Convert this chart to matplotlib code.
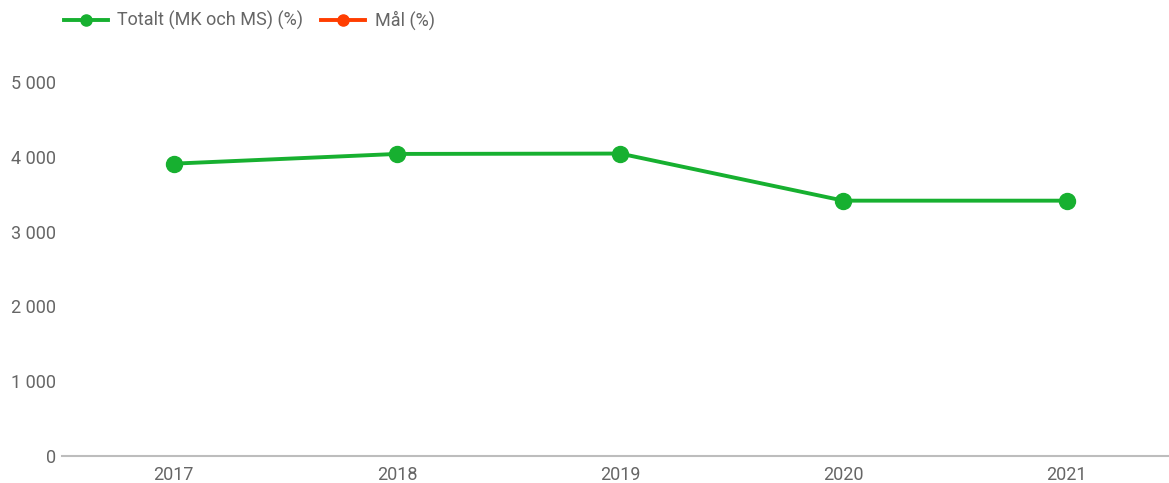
import matplotlib
matplotlib.use("Agg")
import matplotlib.pyplot as plt
from matplotlib.lines import Line2D

plt.rcParams["font.family"] = ["Roboto", "DejaVu Sans"]

GREEN = "#17b030"; RED = "#ff3d00"; GREY = "#666666"; AXIS = "#bdbdbd"

years = ["2017", "2018", "2019", "2020", "2021"]
totalt = [3910, 4040, 4045, 3415, 3415]
mal = []
yticks = [0, 1000, 2000, 3000, 4000, 5000]

fig = plt.figure(figsize=(11.69, 4.83), dpi=100)
ax = fig.add_axes([0.053, 0.0559, 0.955, 0.774])

x = list(range(len(years)))
ax.plot(x, totalt, color=GREEN, lw=2.8, marker="o", ms=11.5, solid_capstyle="round")
ax.plot([], [], color=RED, lw=2.8, marker="o", ms=8)

ax.set_xlim(-0.5, 4.5)
ax.set_ylim(0, 5000)
ax.set_xticks(x)
ax.set_xticklabels(years)
ax.set_yticks(yticks)
ax.set_yticklabels([f"{v:,}".replace(",", " ") for v in yticks])
ax.tick_params(axis="both", length=0, labelsize=13, colors=GREY)
ax.tick_params(axis="x", pad=7)
ax.tick_params(axis="y", pad=4)
for s in ["top", "right", "left"]:
    ax.spines[s].set_visible(False)
ax.spines["bottom"].set_color(AXIS)
ax.spines["bottom"].set_linewidth(1.5)

handles = [Line2D([], [], color=GREEN, lw=2.8, marker="o", ms=8),
           Line2D([], [], color=RED, lw=2.8, marker="o", ms=8)]
fig.legend(handles, ["Totalt (MK och MS) (%)", "Mål (%)"], loc="upper left",
           bbox_to_anchor=(0.041, 1.011), ncol=2, frameon=False, fontsize=13,
           labelcolor=GREY, handlelength=2.4, handletextpad=0.55, columnspacing=1.0)

fig.savefig("out.png", dpi=100)
